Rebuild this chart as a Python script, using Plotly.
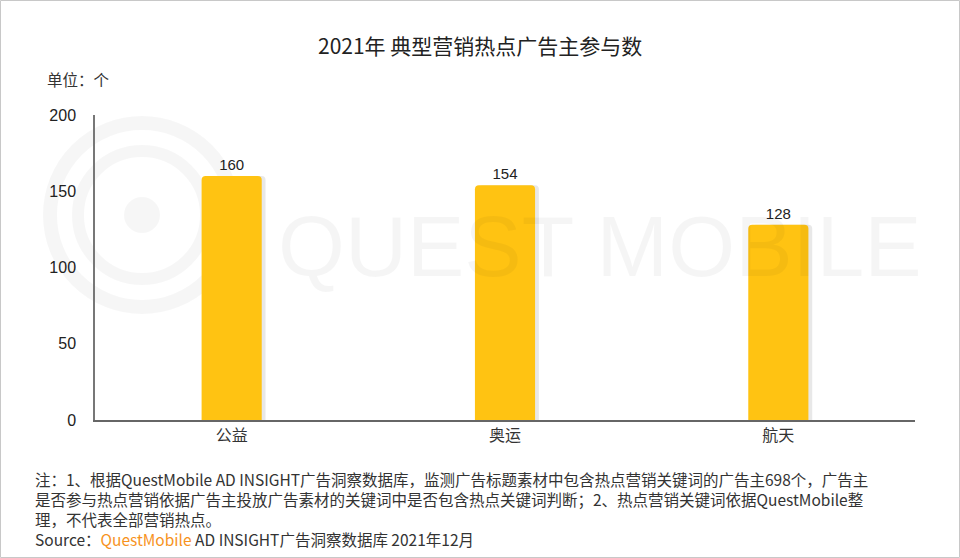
import plotly.graph_objects as go

categories = ["公益", "奥运", "航天"]
values = [160, 154, 128]
y_ticks = [0, 50, 100, 150, 200]

title_text = "2021年 典型营销热点广告主参与数"
unit_text = "单位：个"
note_lines = [
    "注：1、根据QuestMobile AD INSIGHT广告洞察数据库，监测广告标题素材中包含热点营销关键词的广告主698个，广告主",
    "是否参与热点营销依据广告主投放广告素材的关键词中是否包含热点关键词判断；2、热点营销关键词依据QuestMobile整",
    "理，不代表全部营销热点。",
]
source_text = "Source：<span style='color:#F7931E'>QuestMobile</span> AD INSIGHT广告洞察数据库 2021年12月"

W, H = 960, 558
L, R, T, B = 95, 45, 115, 138

fig = go.Figure()

# shadow
fig.add_trace(go.Bar(
    x=categories, y=values, width=0.22, offset=-0.11 + 0.014,
    marker=dict(color="rgba(0,0,0,0.09)", line=dict(width=0), cornerradius=4),
    hoverinfo="skip", showlegend=False,
))
fig.add_trace(go.Bar(
    x=categories, y=values, width=0.22, offset=-0.11,
    marker=dict(color="#FFC312", line=dict(width=0), cornerradius=4),
    text=[str(v) for v in values], textposition="outside",
    textfont=dict(family="Arial, Liberation Sans", size=15, color="#222"),
    cliponaxis=False, showlegend=False,
))

font_cjk = "Microsoft YaHei, Noto Sans CJK SC, sans-serif"

fig.update_layout(
    width=W, height=H,
    margin=dict(l=L, r=R, t=T, b=B),
    paper_bgcolor="white", plot_bgcolor="rgba(0,0,0,0)",
    barmode="overlay",
    xaxis=dict(
        showline=True, linecolor="#666", linewidth=1.5, ticks="",
        tickfont=dict(family=font_cjk, size=16, color="#333"),
        showgrid=False, fixedrange=True,
    ),
    yaxis=dict(
        range=[0, 200], tickvals=y_ticks, showline=True, linecolor="#777", linewidth=1.5,
        showgrid=False, zeroline=False, ticks="", ticklabelstandoff=14,
        tickfont=dict(family="Arial, Liberation Sans", size=16, color="#222"),
    ),
    font=dict(family=font_cjk),
)

def px_to_paper_x(px):
    return (px - L) / (W - L - R)

def px_to_paper_y(py):
    return 1 - (py - T) / (H - T - B)

# watermark
fig.add_annotation(
    text="QUEST MOBILE", xref="paper", yref="paper",
    x=px_to_paper_x(600), y=px_to_paper_y(246), showarrow=False,
    font=dict(family="Arial, Liberation Sans", size=86, color="rgba(0,0,0,0.04)"),
    xanchor="center", yanchor="middle",
)
cx, cy = 142, 215
for r, w in [(92, 14), (64, 12)]:
    fig.add_shape(type="circle", xref="paper", yref="paper",
                  x0=px_to_paper_x(cx - r), x1=px_to_paper_x(cx + r),
                  y0=px_to_paper_y(cy + r), y1=px_to_paper_y(cy - r),
                  line=dict(color="rgba(0,0,0,0.035)", width=w), layer="below")
fig.add_shape(type="circle", xref="paper", yref="paper",
              x0=px_to_paper_x(cx - 18), x1=px_to_paper_x(cx + 18),
              y0=px_to_paper_y(cy + 18), y1=px_to_paper_y(cy - 18),
              line=dict(width=0), fillcolor="rgba(0,0,0,0.035)", layer="below")

# border
fig.add_shape(type="rect", xref="paper", yref="paper",
              x0=px_to_paper_x(0.5), x1=px_to_paper_x(W - 0.5),
              y0=px_to_paper_y(H - 0.5), y1=px_to_paper_y(0.5),
              line=dict(color="#c8c8c8", width=1))

fig.add_annotation(
    text=title_text, xref="paper", yref="paper",
    x=px_to_paper_x(480), y=px_to_paper_y(45), showarrow=False,
    font=dict(family=font_cjk, size=21, color="#222"),
    xanchor="center", yanchor="middle",
)
fig.add_annotation(
    text=unit_text, xref="paper", yref="paper",
    x=px_to_paper_x(45), y=px_to_paper_y(79), showarrow=False,
    font=dict(family=font_cjk, size=15.5, color="#333"),
    xanchor="left", yanchor="middle",
)
fig.add_annotation(
    text="<br>".join(note_lines + [source_text]), xref="paper", yref="paper",
    x=px_to_paper_x(34), y=px_to_paper_y(467), showarrow=False,
    font=dict(family=font_cjk, size=15.5, color="#333"),
    xanchor="left", yanchor="top", align="left", borderpad=0,
)

fig.write_html("out.html")
